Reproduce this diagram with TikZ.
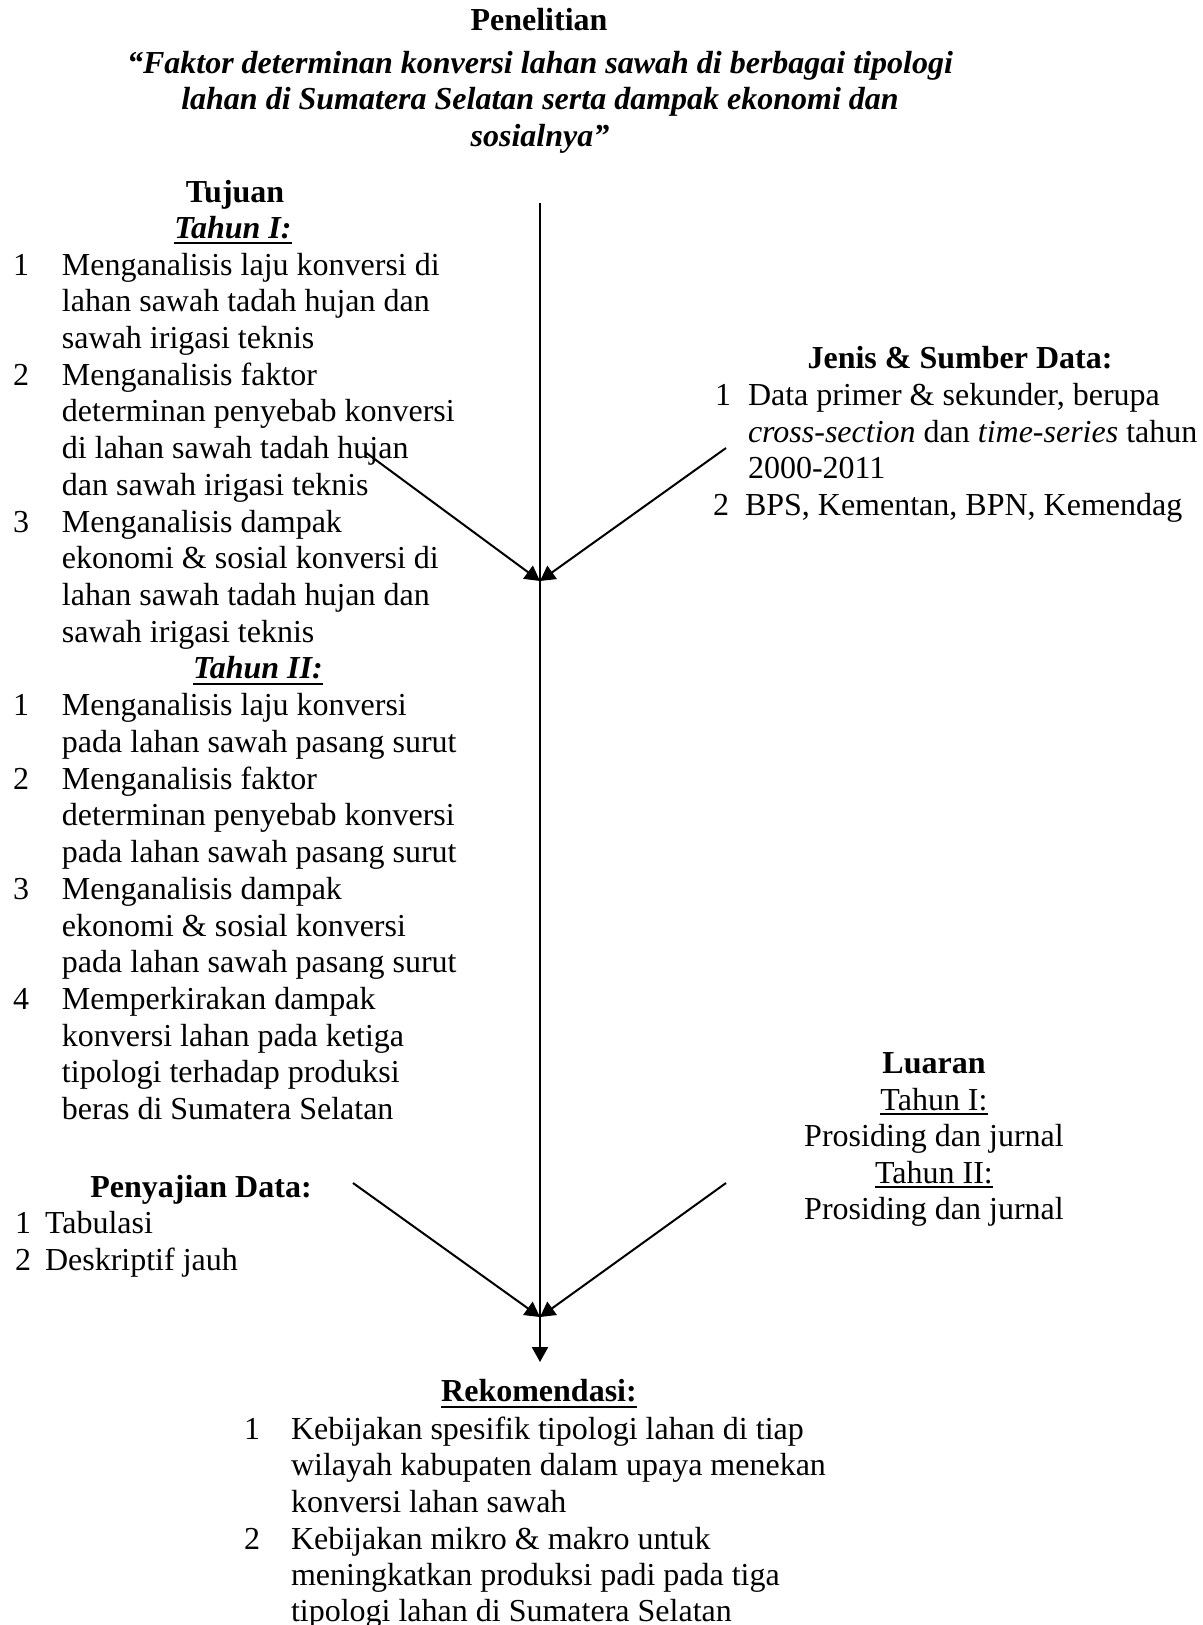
\documentclass[tikz,border=0pt]{standalone}
\usepackage{fontspec}
\setmainfont{Liberation Serif}
\usetikzlibrary{arrows.meta}
\newcommand\fsz{\fontsize{12pt}{13.77pt}\selectfont}
\begin{document}
\begin{tikzpicture}[x=0.375pt,y=-0.375pt,
  txt/.style={inner sep=0pt, outer sep=0pt, font=\fsz},
  lt/.style={txt, anchor=base west},
  ct/.style={txt, anchor=base},
  bf/.style={font=\fsz\bfseries},
  bi/.style={font=\fsz\bfseries\itshape},
  arr/.style={line width=0.75pt, -{Triangle[length=5.6pt,width=6pt]}},
  ulb/.style={line width=1pt},
  uln/.style={line width=0.7pt}]
\useasboundingbox[fill=white] (0,0) rectangle (1203,1625);

% ---------- title ----------
\node[ct,bf] (pen) at (539,30) {Penelitian};
\node[ct,bi] (tt1) at (540,73) {“Faktor determinan konversi lahan sawah di berbagai tipologi};
\node[ct,bi] (tt2) at (540,109) {lahan di Sumatera Selatan serta dampak ekonomi dan};
\node[ct,bi] (tt3) at (540,146) {sosialnya”};

% ---------- Tujuan ----------
\node[ct,bf] (tuj) at (235,202) {Tujuan};
\node[ct,bi] (th1) at (233,238) {Tahun I:};
\draw[ulb] ([yshift=-1.9pt]th1.base west) -- ([yshift=-1.9pt]th1.base east);

\node[lt] (n11) at (13,275.0) {1};
\node[lt] (a1) at (62,275.0) {Menganalisis laju konversi di};
\node[lt] (a2) at (62,311.7) {lahan sawah tadah hujan dan};
\node[lt] (a3) at (62,348.4) {sawah irigasi teknis};
\node[lt] (n12) at (13,385.2) {2};
\node[lt] (a4) at (62,385.2) {Menganalisis faktor};
\node[lt] (a5) at (62,421.9) {determinan penyebab konversi};
\node[lt] (a6) at (62,458.6) {di lahan sawah tadah hujan};
\node[lt] (a7) at (62,495.3) {dan sawah irigasi teknis};
\node[lt] (n13) at (13,532.0) {3};
\node[lt] (a8) at (62,532.0) {Menganalisis dampak};
\node[lt] (a9) at (62,568.8) {ekonomi \& sosial konversi di};
\node[lt] (a10) at (62,605.5) {lahan sawah tadah hujan dan};
\node[lt] (a11) at (62,642.2) {sawah irigasi teknis};

\node[ct,bi] (th2) at (258,678.9) {Tahun II:};
\draw[ulb] ([yshift=-1.9pt]th2.base west) -- ([yshift=-1.9pt]th2.base east);

\node[lt] (n21) at (13,715.6) {1};
\node[lt] (b1) at (62,715.6) {Menganalisis laju konversi};
\node[lt] (b2) at (62,752.4) {pada lahan sawah pasang surut};
\node[lt] (n22) at (13,789.1) {2};
\node[lt] (b3) at (62,789.1) {Menganalisis faktor};
\node[lt] (b4) at (62,825.8) {determinan penyebab konversi};
\node[lt] (b5) at (62,862.5) {pada lahan sawah pasang surut};
\node[lt] (n23) at (13,899.2) {3};
\node[lt] (b6) at (62,899.2) {Menganalisis dampak};
\node[lt] (b7) at (62,936.0) {ekonomi \& sosial konversi};
\node[lt] (b8) at (62,972.7) {pada lahan sawah pasang surut};
\node[lt] (n24) at (13,1009.4) {4};
\node[lt] (b9) at (62,1009.4) {Memperkirakan dampak};
\node[lt] (b10) at (62,1046.1) {konversi lahan pada ketiga};
\node[lt] (b11) at (62,1082.8) {tipologi terhadap produksi};
\node[lt] (b12) at (62,1119.6) {beras di Sumatera Selatan};

% ---------- Jenis & Sumber Data ----------
\node[ct,bf] (jen) at (960,368) {Jenis \& Sumber Data:};
\node[lt] (jn1) at (715,405) {1};
\node[lt] (j1) at (748,405) {Data primer \& sekunder, berupa};
\node[lt] (j2) at (748,442) {\textit{cross-section} dan \textit{time-series} tahun};
\node[lt] (j3) at (748,478) {2000-2011};
\node[lt] (jn2) at (713,515) {2};
\node[lt] (j4) at (745,515) {BPS, Kementan, BPN, Kemendag};

% ---------- Luaran ----------
\node[ct,bf] (lua) at (934,1073) {Luaran};
\node[ct] (l1) at (934,1110) {Tahun I:};
\draw[uln] ([yshift=-1.6pt]l1.base west) -- ([yshift=-1.6pt]l1.base east);
\node[ct] (l2) at (934,1146) {Prosiding dan jurnal};
\node[ct] (l3) at (934,1183) {Tahun II:};
\draw[uln] ([yshift=-1.6pt]l3.base west) -- ([yshift=-1.6pt]l3.base east);
\node[ct] (l4) at (934,1219) {Prosiding dan jurnal};

% ---------- Penyajian Data ----------
\node[ct,bf] (pny) at (201,1197) {Penyajian Data:};
\node[lt] (pn1) at (15,1233) {1};
\node[lt] (p1) at (45,1233) {Tabulasi};
\node[lt] (pn2) at (15,1270) {2};
\node[lt] (p2) at (45,1270) {Deskriptif jauh};

% ---------- Rekomendasi ----------
\node[ct,bf] (rek) at (539,1401) {Rekomendasi:};
\draw[ulb] ([yshift=-2.2pt]rek.base west) -- ([yshift=-2.2pt]rek.base east);
\node[lt] (rn1) at (244,1439.0) {1};
\node[lt] (r1) at (291,1439.0) {Kebijakan spesifik tipologi lahan di tiap};
\node[lt] (r2) at (291,1475.7) {wilayah kabupaten dalam upaya menekan};
\node[lt] (r3) at (291,1512.4) {konversi lahan sawah};
\node[lt] (rn2) at (244,1549.1) {2};
\node[lt] (r4) at (291,1549.1) {Kebijakan mikro \& makro untuk};
\node[lt] (r5) at (291,1585.8) {meningkatkan produksi padi pada tiga};
\node[lt] (r6) at (291,1621.5) {tipologi lahan di Sumatera Selatan};

% ---------- connectors ----------
\coordinate (top) at (540,203);
\coordinate (bot) at (540,1362);
\coordinate (ja) at (540,581);
\coordinate (jb) at (540,1317);
\coordinate (sa1) at (365,452);
\coordinate (sa2) at (726,448);
\coordinate (sb1) at (353,1183);
\coordinate (sb2) at (726,1183);
\draw[arr] (top) -- (bot);
\draw[arr] (sa1) -- (ja);
\draw[arr] (sa2) -- (ja);
\draw[arr] (sb1) -- (jb);
\draw[arr] (sb2) -- (jb);
\end{tikzpicture}
\end{document}
